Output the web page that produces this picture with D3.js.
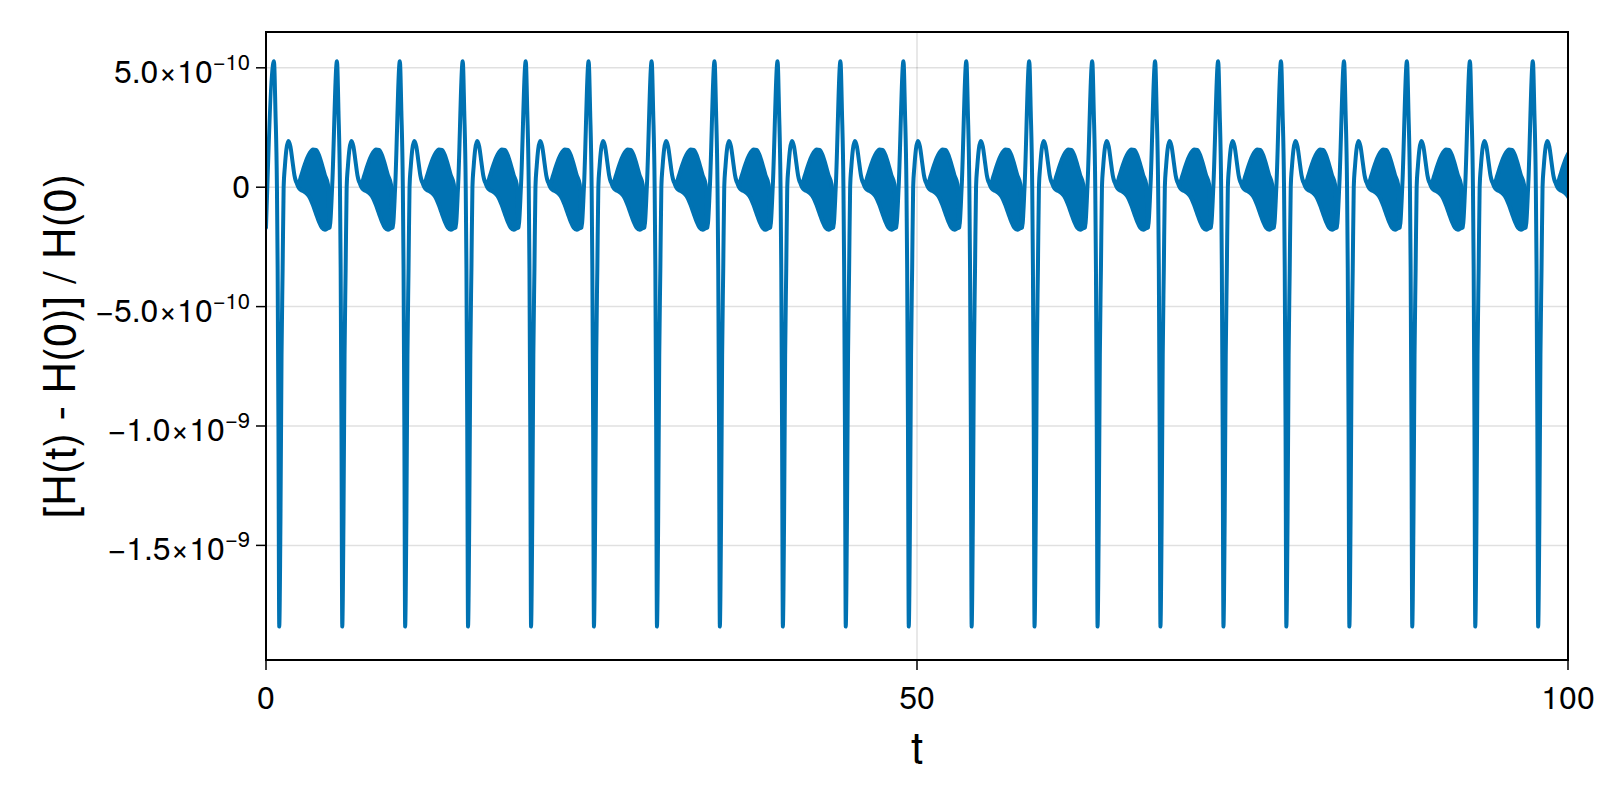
<!DOCTYPE html>
<html><head><meta charset="utf-8">
<script src="https://cdn.jsdelivr.net/npm/d3@7"></script>
<style>
body{margin:0;background:#fff}
text{font-family:"TeX Gyre Heros","Liberation Sans",Arial,Helvetica,sans-serif;fill:#000}
</style>
</head><body>
<svg id="c" width="1600" height="800"></svg>
<script>
// ---- data ----
// times of the positive spike of each orbit (t units)
const spikeTimes = [0.61, 5.45, 10.28, 15.11, 19.95, 24.78, 29.62, 34.45, 39.29, 44.12,
  48.96, 53.79, 58.62, 63.46, 68.29, 73.13, 77.96, 82.80, 87.63, 92.47, 97.30];
// one orbit's shape after a spike: time offset, upper and lower envelope (units of 1e-10)
const profileDt = [0, 0.115, 0.23, 0.284, 0.346, 0.407, 0.5, 0.584, 0.668, 0.745, 0.845,
  0.96, 1.114, 1.267, 1.421, 1.575, 1.728, 1.882, 2.074, 2.304, 2.535, 2.765, 2.995,
  3.226, 3.456, 3.687, 3.917, 4.147, 4.293, 4.47];
const profileHi = [5.28, 3.2, 0.0, -3.4, -10, -18.4, -14, -7, -3.4, 0, 0.9,
  1.6, 1.94, 1.7, 1.1, 0.5, 0.2, 0.15, 0.45, 0.85, 1.2, 1.45, 1.58,
  1.56, 1.35, 0.95, 0.5, 0.12, -1.6, 0.0];
const profileLo = [5.28, 3.2, 0.0, -3.4, -10, -18.4, -14, -7, -3.4, 0, 0.9,
  1.6, 1.94, 1.7, 1.1, 0.5, 0.2, 0.0, -0.12, -0.18, -0.28, -0.45, -0.75,
  -1.1, -1.45, -1.7, -1.78, -1.72, -1.68, 0.0];
const startValue = -1.7;           // value at t = 0 (×1e-10)
const valueScale = 1e-10;

const xTicks = [0, 50, 100];
const yTickValues = [5e-10, 0, -5e-10, -1e-9, -1.5e-9];
const yTickMantissa = ["5.0", "0", "\u22125.0", "\u22121.0", "\u22121.5"];
const yTickExponent = ["\u221210", "", "\u221210", "\u22129", "\u22129"];
const xLabel = "t";
const yLabel = "[H(t) - H(0)] / H(0)";
const xDomain = [0, 100];
const yDomain = [-1.98e-9, 6.5e-10];

// ---- build series ----
const series = [{t: 0, hi: startValue, lo: startValue}];
spikeTimes.forEach(s => {
  profileDt.forEach((dt, i) => {
    const t = s + dt;
    if (t <= 100.5) series.push({t, hi: profileHi[i], lo: profileLo[i]});
  });
});

// ---- layout ----
const L = 266, R = 1568, T = 32, B = 660;
const svg = d3.select("#c");
const x = d3.scaleLinear(xDomain, [L, R]);
const y = d3.scaleLinear(yDomain, [B, T]);
const color = "#0072b2";

svg.append("rect").attr("width", 1600).attr("height", 800).attr("fill", "#fff");

// grid
const grid = svg.append("g").attr("stroke", "#000").attr("stroke-opacity", 0.12).attr("stroke-width", 1.5);
yTickValues.forEach(v => grid.append("line").attr("x1", L).attr("x2", R).attr("y1", y(v)).attr("y2", y(v)));
xTicks.forEach(v => grid.append("line").attr("x1", x(v)).attr("x2", x(v)).attr("y1", T).attr("y2", B));

// clip
svg.append("clipPath").attr("id", "clip").append("rect")
  .attr("x", L).attr("y", T).attr("width", R - L).attr("height", B - T);

const area = d3.area()
  .curve(d3.curveMonotoneX)
  .x(d => x(d.t))
  .y0(d => y(d.lo * valueScale))
  .y1(d => y(d.hi * valueScale));

svg.append("path")
  .attr("clip-path", "url(#clip)")
  .attr("d", area(series))
  .attr("fill", color)
  .attr("stroke", color)
  .attr("stroke-width", 4)
  .attr("stroke-linejoin", "round");

// spines
svg.append("rect").attr("x", L).attr("y", T).attr("width", R - L).attr("height", B - T)
  .attr("fill", "none").attr("stroke", "#000").attr("stroke-width", 2);

// x ticks
const xt = svg.append("g");
xTicks.forEach(v => {
  xt.append("line").attr("x1", x(v)).attr("x2", x(v)).attr("y1", B).attr("y2", B + 10)
    .attr("stroke", "#000").attr("stroke-width", 1.5);
  xt.append("text").attr("x", x(v)).attr("y", B + 49).attr("text-anchor", "middle")
    .attr("font-size", 32).text(v);
});

// y ticks
const yt = svg.append("g");
yTickValues.forEach((v, i) => {
  yt.append("line").attr("x1", L - 10).attr("x2", L).attr("y1", y(v)).attr("y2", y(v))
    .attr("stroke", "#000").attr("stroke-width", 1.5);
  const txt = yt.append("text").attr("x", L - 16).attr("text-anchor", "end").attr("font-size", 32);
  if (yTickExponent[i]) {
    txt.attr("y", y(v) + 15);
    txt.append("tspan").text(yTickMantissa[i] + "\u00d710");
    txt.append("tspan").attr("font-size", 22).attr("dy", -13).text(yTickExponent[i]);
  } else {
    txt.attr("y", y(v) + 11).text(yTickMantissa[i]);
  }
});

// axis labels
svg.append("text").attr("x", (L + R) / 2).attr("y", 763).attr("text-anchor", "middle")
  .attr("font-size", 44).text(xLabel);
svg.append("text").attr("transform", `translate(75,${(T + B) / 2}) rotate(-90)`)
  .attr("text-anchor", "middle").attr("font-size", 44).text(yLabel);
</script>
</body></html>
